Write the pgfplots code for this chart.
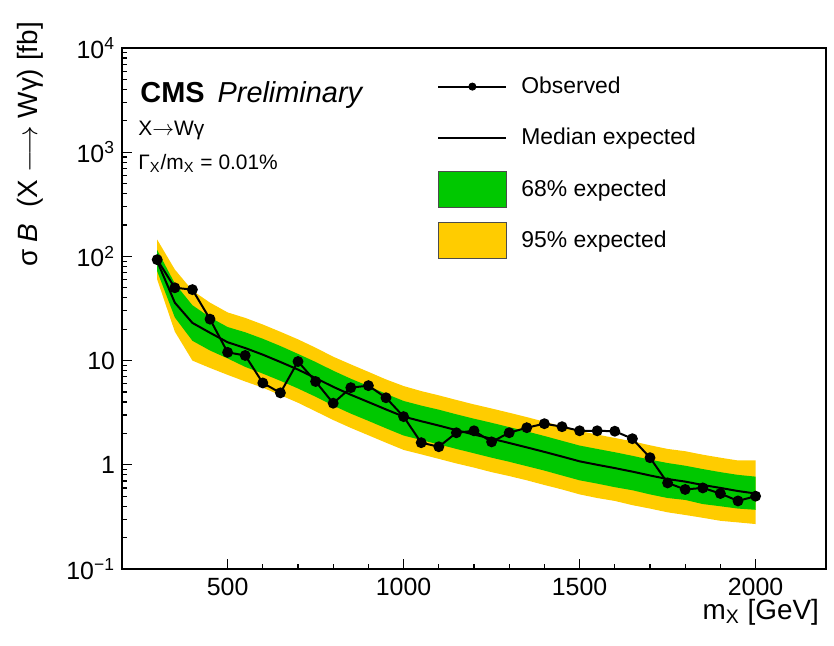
\documentclass[border=0pt]{standalone}
\usepackage{pgfplots}
\pgfplotsset{compat=1.18}
\usepgfplotslibrary{fillbetween}
\usepackage{pgfplotstable}
\usetikzlibrary{calc}
\usepackage{fontspec}
\setmainfont{Liberation Sans}
\definecolor{g68}{RGB}{0,200,0}
\definecolor{y95}{RGB}{255,204,0}

\pgfplotstableread{
m    obs   med   yt    gt    gb    yb
300  93    90    145   115   72    60
350  50    36    75    55    26    19
400  48    23    47    34    15.5  10
450  25    18.5  36    26    12.5  8.5
500  12    15    29    21    10.5  7.3
550  11.2  13.2  25.7  18.7  8.7   6.3
600  6.1   11.4  22.2  16.2  7.5   5.5
650  4.9   9.7   18.9  13.8  6.4   4.66
700  9.8   8.2   16.0  11.6  5.4   3.94
750  6.3   6.8   13.3  9.7   4.5   3.26
800  3.9   5.6   10.9  8.0   3.7   2.69
850  5.5   4.7   9.2   6.7   3.1   2.26
900  5.75  4.0   7.8   5.7   2.64  1.92
950  4.4   3.4   6.6   4.8   2.24  1.63
1000 2.9   2.9   5.7   4.1   1.91  1.39
1050 1.63  2.62  5.1   3.7   1.73  1.26
1100 1.49  2.38  4.64  3.38  1.57  1.14
1150 2.03  2.15  4.19  3.05  1.42  1.03
1200 2.12  1.95  3.80  2.77  1.29  0.94
1250 1.66  1.78  3.47  2.53  1.17  0.85
1300 2.03  1.62  3.16  2.30  1.07  0.78
1350 2.27  1.47  2.87  2.09  0.97  0.71
1400 2.48  1.33  2.59  1.89  0.88  0.64
1450 2.32  1.20  2.34  1.70  0.79  0.58
1500 2.12  1.08  2.11  1.53  0.71  0.52
1550 2.12  1.00  1.95  1.42  0.66  0.48
1600 2.10  0.93  1.81  1.32  0.61  0.45
1650 1.78  0.86  1.68  1.22  0.57  0.41
1700 1.17  0.79  1.54  1.12  0.52  0.38
1750 0.67  0.73  1.42  1.04  0.48  0.35
1800 0.58  0.69  1.35  0.98  0.46  0.33
1850 0.60  0.64  1.25  0.91  0.42  0.31
1900 0.53  0.60  1.17  0.85  0.40  0.29
1950 0.45  0.56  1.10  0.80  0.38  0.28
2000 0.50  0.53  1.10  0.77  0.37  0.27
}\data

\begin{document}
\begin{tikzpicture}
\begin{axis}[
  width=352bp, height=260.5bp, scale only axis,
  xmin=200, xmax=2200, ymin=0.1, ymax=10000, ymode=log,
  xtick={500,1000,1500,2000}, minor x tick num=4,
  xticklabels={500,1000,1500,2000},
  ytick={0.1,1,10,100,1000,10000},
  minor ytick={0.2,0.3,0.4,0.5,0.6,0.7,0.8,0.9,2,3,4,5,6,7,8,9,20,30,40,50,60,70,80,90,200,300,400,500,600,700,800,900,2000,3000,4000,5000,6000,7000,8000,9000},
  yticklabels={10\textsuperscript{−1},1,10,10\textsuperscript{2},10\textsuperscript{3},10\textsuperscript{4}},
  tick align=inside, xtick pos=bottom, ytick pos=left,
  major tick length=5bp, minor tick length=2.5bp,
  tick style={black, line width=0.6bp},
  axis line style={line width=1bp},
  ticklabel style={font=\fontsize{12.5}{14}\selectfont},
  xticklabel style={yshift=-1bp},
  xlabel={m\textsubscript{X} [GeV]},
  xlabel style={at={(axis description cs:1,-0.083)}, anchor=east, font=\fontsize{14}{16}\selectfont},
  ylabel={σ \textit{B}\ \ (X $\longrightarrow$ Wγ) [fb]},
  ylabel style={at={(axis description cs:-0.1307,1.063)}, anchor=east, font=\fontsize{14}{16}\selectfont},
  legend style={at={(axis description cs:0.4474,0.976)}, anchor=north west, draw=none, fill=none,
    inner sep=0pt, row sep=0pt, column sep=7bp, font=\fontsize{11.5}{13}\selectfont,
    nodes={inner sep=0pt}},
  legend cell align=left,
]
\addlegendimage{legend image code/.code={\path[draw=none,fill=none] (0bp,-12.85bp) rectangle (34bp,12.85bp);
  \draw[black, line width=1bp] (0bp,0bp) -- (34bp,0bp); \fill[black] (17bp,0bp) circle (1.8bp);}}
\addlegendentry{Observed}
\addlegendimage{legend image code/.code={\path[draw=none,fill=none] (0bp,-12.85bp) rectangle (34bp,12.85bp);
  \draw[black, line width=1bp] (0bp,0bp) -- (34bp,0bp);}}
\addlegendentry{Median expected}
\addlegendimage{legend image code/.code={\path[draw=none,fill=none] (0bp,-12.85bp) rectangle (34bp,12.85bp);
  \draw[fill=g68, draw=black!70, line width=0.6bp] (0bp,-9bp) rectangle (34bp,9bp);}}
\addlegendentry{68\% expected}
\addlegendimage{legend image code/.code={\path[draw=none,fill=none] (0bp,-12.85bp) rectangle (34bp,12.85bp);
  \draw[fill=y95, draw=black!70, line width=0.6bp] (0bp,-9bp) rectangle (34bp,9bp);}}
\addlegendentry{95\% expected}

\addplot[name path=yt, draw=none, forget plot] table[x=m, y=yt]{\data};
\addplot[name path=yb, draw=none, forget plot] table[x=m, y=yb]{\data};
\addplot[name path=gt, draw=none, forget plot] table[x=m, y=gt]{\data};
\addplot[name path=gb, draw=none, forget plot] table[x=m, y=gb]{\data};
\addplot[y95, draw=none, forget plot] fill between[of=yt and yb];
\addplot[g68, draw=none, forget plot] fill between[of=gt and gb];
\addplot[black, line width=1bp, forget plot] table[x=m, y=med]{\data};
\addplot[black, line width=1bp, mark=*, mark size=2.2bp, forget plot] table[x=m, y=obs]{\data};

\node[anchor=east, font=\fontsize{14}{16}\selectfont] at (axis description cs:0.923,1.035) {138 fb\textsuperscript{-1} (13 TeV)};
\node[anchor=west, inner sep=0pt] at (axis description cs:0.0256,0.91) {\fontsize{14.5}{16}\selectfont\bfseries CMS\hspace{6.5bp}\mdseries\itshape Preliminary};
\node[anchor=west, inner sep=0pt, font=\fontsize{10.5}{12}\selectfont] at (axis description cs:0.0227,0.841) {X$\rightarrow$Wγ};
\node[anchor=west, inner sep=0pt, font=\fontsize{10.5}{12}\selectfont] at (axis description cs:0.0227,0.779) {Γ\textsubscript{X}/m\textsubscript{X} = 0.01\%};
\end{axis}
\pgfresetboundingbox
\path ($(current axis.south west)+(-61bp,-38.5bp)$) rectangle ($(current axis.north east)+(4bp,24bp)$);
\end{tikzpicture}
\end{document}
